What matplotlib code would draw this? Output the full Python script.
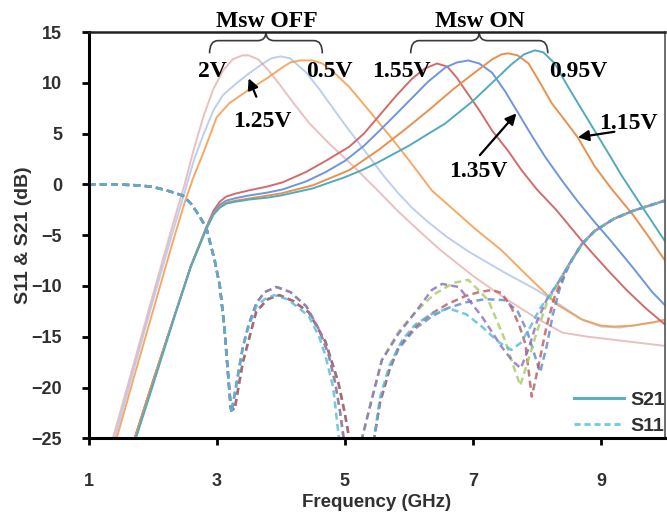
import matplotlib
matplotlib.use("Agg")
import matplotlib.pyplot as plt
from matplotlib.path import Path
from matplotlib.patches import PathPatch

plt.rcParams['font.family'] = ['Liberation Sans', 'DejaVu Sans']

# ---------------- S21, Msw OFF (light colours) ----------------
f_off_2v = [1.38, 1.7, 2.0, 2.3, 2.5, 2.65, 2.8, 2.95, 3.1, 3.25, 3.4, 3.5, 3.65, 3.8, 4.0, 4.2, 4.45, 4.76,
            5.1, 5.5, 5.84, 6.2, 6.5, 7.0, 7.5, 8.0, 8.4, 8.8, 9.2, 9.6, 10.0]
s21_off_2v = [-25, -17.8, -11.0, -4.3, 0.0, 3.6, 6.8, 9.4, 11.2, 12.3, 12.7, 12.7, 12.3, 11.3, 9.7, 8.0, 6.0, 4.0,
              2.0, -0.5, -2.7, -4.8, -6.5, -9.0, -11.2, -13.2, -14.6, -15.0, -15.3, -15.6, -15.9]

f_off_125 = [1.41, 1.7, 2.0, 2.3, 2.5, 2.65, 2.8, 2.95, 3.1, 3.3, 3.5, 3.7, 3.85, 4.0, 4.15, 4.4, 4.6, 4.76,
             5.0, 5.3, 5.6, 5.84, 6.05, 6.3, 6.6, 6.93, 7.5, 8.0, 8.3, 8.7, 9.0, 9.3, 9.6, 10.0]
s21_off_125 = [-25, -18.4, -11.6, -5.0, -0.8, 2.5, 5.0, 7.3, 8.8, 9.9, 10.9, 11.8, 12.4, 12.6, 12.4, 11.0, 9.4, 8.0,
               5.9, 3.4, 0.9, -0.9, -2.3, -3.7, -5.2, -6.6, -8.7, -10.4, -11.6, -13.3, -14.0, -14.1, -13.8, -13.4]

f_off_05 = [1.44, 1.7, 2.0, 2.3, 2.5, 2.65, 2.8, 3.0, 3.2, 3.5, 3.8, 4.0, 4.15, 4.3, 4.5, 4.65, 4.8, 5.07,
            5.4, 5.7, 6.0, 6.36, 6.7, 7.04, 7.45, 7.9, 8.33, 8.7, 9.0, 9.21, 9.5, 9.8, 10.0]
s21_off_05 = [-25, -19.2, -12.6, -6.0, -1.8, 0.9, 3.2, 6.6, 8.0, 9.3, 10.5, 11.4, 12.0, 12.2, 12.2, 11.9, 11.2, 9.6,
              7.1, 4.8, 2.4, -0.6, -2.5, -4.4, -6.5, -9.3, -11.9, -13.3, -13.9, -14.0, -13.9, -13.6, -13.3]

# ---------------- S21, Msw ON ----------------
f_on_155 = [1.72, 2.0, 2.37, 2.6, 2.84, 2.95, 3.05, 3.15, 3.3, 3.5, 3.8, 4.03, 4.39, 4.7, 5.07, 5.3, 5.53, 5.8,
            6.05, 6.25, 6.44, 6.6, 6.75, 6.88, 7.1, 7.3, 7.55, 7.76, 8.0, 8.3, 8.55, 8.8, 9.1, 9.4, 9.7, 10.0]
s21_on_155 = [-25, -19.5, -12.4, -8.0, -4.2, -2.6, -1.7, -1.2, -0.9, -0.6, -0.2, 0.2, 1.2, 2.3, 3.7, 5.0, 6.7, 8.7,
              10.4, 11.4, 11.9, 11.6, 10.5, 9.3, 7.3, 5.3, 3.3, 1.4, -0.5, -2.5, -4.4, -6.3, -8.4, -10.4, -12.2, -13.8]

f_on_135 = [1.72, 2.0, 2.37, 2.6, 2.84, 2.95, 3.05, 3.15, 3.3, 3.5, 3.8, 4.03, 4.4, 4.7, 5.0, 5.3, 5.53, 5.8,
            6.05, 6.3, 6.57, 6.75, 6.93, 7.1, 7.3, 7.5, 7.71, 7.9, 8.13, 8.4, 8.64, 8.9, 9.16, 9.5, 9.8, 10.0]
s21_on_135 = [-25, -19.5, -12.4, -8.0, -4.3, -2.8, -2.0, -1.6, -1.35, -1.1, -0.8, -0.5, 0.3, 1.2, 2.3, 3.8, 5.2, 6.9,
              8.5, 10.1, 11.5, 12.0, 12.2, 11.9, 11.0, 9.2, 7.0, 5.0, 2.7, 0.3, -1.7, -3.7, -5.6, -8.2, -10.6, -11.9]

f_on_115 = [1.72, 2.0, 2.37, 2.6, 2.84, 2.95, 3.05, 3.15, 3.3, 3.5, 3.8, 4.0, 4.5, 5.07, 5.53, 5.9, 6.31, 6.7,
            7.09, 7.3, 7.45, 7.55, 7.7, 7.87, 8.05, 8.23, 8.45, 8.64, 8.9, 9.16, 9.5, 9.75, 10.0]
s21_on_115 = [-25, -19.5, -12.4, -8.0, -4.3, -2.9, -2.2, -1.8, -1.6, -1.4, -1.1, -0.9, -0.1, 1.4, 3.4, 5.2, 7.3, 9.4,
              11.3, 12.3, 12.8, 12.9, 12.7, 11.9, 10.0, 8.0, 6.2, 4.6, 1.8, -0.4, -3.0, -5.2, -7.5]

f_on_095 = [1.74, 2.0, 2.37, 2.6, 2.84, 2.95, 3.05, 3.15, 3.3, 3.5, 3.8, 4.0, 4.5, 5.0, 5.27, 5.53, 6.0, 6.57,
            7.0, 7.35, 7.6, 7.8, 7.97, 8.1, 8.28, 8.45, 8.64, 8.9, 9.16, 9.32, 9.6, 9.8, 10.0]
s21_on_095 = [-25, -19.9, -12.5, -8.1, -4.4, -3.0, -2.3, -1.9, -1.7, -1.5, -1.3, -1.1, -0.4, 0.7, 1.4, 2.2, 3.8, 6.0,
              8.2, 10.3, 11.8, 12.8, 13.2, 13.0, 11.9, 10.0, 8.0, 5.3, 2.6, 0.9, -1.8, -3.7, -5.6]

# ---------------- S11 (dashed) ----------------
f_s11_cyan = [1.0, 1.4, 1.8, 2.0, 2.2, 2.35, 2.47, 2.6, 2.72, 2.84, 2.97, 3.05, 3.12, 3.17, 3.23, 3.3, 3.41, 3.5,
              3.62, 3.75, 3.9, 4.1, 4.25, 4.44, 4.6, 4.7, 4.82, 4.91,
              5.46, 5.55, 5.7, 5.9, 6.1, 6.35, 6.62, 6.9, 7.14, 7.4, 7.6, 7.75, 7.9, 8.05, 8.2, 8.35, 8.5, 8.7, 8.9,
              9.2, 9.5, 9.8, 10.0]
s11_cyan = [0, 0, -0.1, -0.25, -0.55, -0.85, -1.1, -1.9, -3.0, -4.3, -7.5, -10.0, -14.0, -18.0, -22.5, -20.0, -16.0, -14.0,
            -12.0, -11.3, -10.9, -11.3, -12.0, -13.0, -15.0, -16.9, -20.0, -25.0,
            -25.0, -21.0, -17.8, -15.3, -13.8, -12.8, -12.2, -12.8, -14.0, -15.5, -16.3, -15.6, -14.0, -12.2, -10.9, -9.5,
            -7.9, -5.9, -4.6, -3.4, -2.6, -2.0, -1.6]

f_s11_purple = [1.0, 1.4, 1.8, 2.0, 2.2, 2.35, 2.47, 2.6, 2.72, 2.84, 2.97, 3.05, 3.12, 3.17, 3.23, 3.3, 3.41, 3.5,
                3.62, 3.75, 3.93, 4.15, 4.4, 4.6, 4.75, 4.85, 4.93, 4.98,
                5.27, 5.38, 5.58, 5.84, 6.1, 6.36, 6.52, 6.78, 7.14, 7.45, 7.62, 7.75, 7.88, 8.0, 8.15, 8.35, 8.5, 8.7,
                8.9, 9.2, 9.5, 9.8, 10.0]
s11_purple = [0, 0, -0.1, -0.25, -0.55, -0.85, -1.1, -1.9, -3.0, -4.3, -7.5, -10.0, -14.0, -18.0, -22.5, -20.0, -16.0, -13.8,
              -11.7, -10.6, -10.1, -10.6, -12.0, -14.3, -16.8, -19.5, -22.5, -25.0,
              -25.0, -22.2, -17.3, -14.7, -12.6, -10.4, -9.8, -10.1, -13.0, -16.0, -17.4, -18.1, -16.0, -13.5, -11.4, -9.5,
              -7.9, -5.9, -4.6, -3.4, -2.6, -2.0, -1.6]

f_s11_green = [1.0, 1.4, 1.8, 2.0, 2.2, 2.35, 2.47, 2.6, 2.72, 2.84, 2.97, 3.05, 3.12, 3.17, 3.23, 3.3, 3.41, 3.5,
               3.62, 3.75, 3.95, 4.15, 4.4, 4.6, 4.75, 4.85, 4.93, 4.99,
               5.27, 5.38, 5.58, 5.84, 6.1, 6.4, 6.7, 6.93, 7.24, 7.5, 7.64, 7.74, 7.88, 8.0, 8.15, 8.35, 8.5, 8.7,
               8.9, 9.2, 9.5, 9.8, 10.0]
s11_green = [0, 0, -0.1, -0.25, -0.55, -0.85, -1.1, -1.9, -3.0, -4.3, -7.5, -10.0, -14.0, -18.0, -22.5, -20.0, -16.0, -13.8,
             -11.7, -10.6, -10.1, -10.6, -12.0, -14.3, -16.8, -19.5, -22.5, -25.0,
             -25.0, -22.2, -17.3, -14.5, -12.6, -10.8, -9.7, -9.4, -11.4, -15.3, -18.0, -19.8, -17.0, -14.5, -11.8, -9.5,
             -7.9, -5.9, -4.6, -3.4, -2.6, -2.0, -1.6]

f_s11_red = [1.0, 1.4, 1.8, 2.0, 2.2, 2.35, 2.47, 2.6, 2.72, 2.84, 2.97, 3.05, 3.12, 3.17, 3.22, 3.28, 3.34, 3.41,
             3.62, 3.8, 3.98, 4.2, 4.44, 4.7, 4.9, 5.0, 5.07,
             5.46, 5.55, 5.7, 5.84, 6.1, 6.36, 6.6, 6.88, 7.1, 7.3, 7.45, 7.6, 7.72, 7.82, 7.92, 8.02, 8.15, 8.27, 8.4,
             8.5, 8.7, 8.9, 9.2, 9.5, 9.8, 10.0]
s11_red = [0, 0, -0.1, -0.25, -0.55, -0.85, -1.1, -1.9, -3.0, -4.3, -7.5, -10.0, -14.0, -18.0, -22.0, -22.2, -20.0, -17.5,
           -12.5, -11.3, -10.9, -11.5, -12.6, -15.5, -19.5, -22.5, -25.0,
           -25.0, -21.5, -18.2, -16.0, -14.0, -12.7, -11.8, -11.0, -10.6, -10.4, -10.7, -12.1, -13.8, -15.7, -20.9, -18.0,
           -14.0, -11.2, -9.2, -7.9, -5.9, -4.6, -3.4, -2.6, -2.0, -1.6]

f_s11_blue = [1.0, 1.4, 1.8, 2.0, 2.2, 2.35, 2.47, 2.6, 2.72, 2.84, 2.97, 3.05, 3.12, 3.17, 3.22, 3.28, 3.34, 3.41,
              3.62, 3.8, 3.98, 4.2, 4.44, 4.7, 4.9, 5.0, 5.07,
              5.46, 5.55, 5.7, 5.84, 6.1, 6.36, 6.6, 6.9, 7.2, 7.5, 7.7, 7.85, 7.95, 8.05, 8.15, 8.25, 8.35, 8.45,
              8.55, 8.7, 8.9, 9.2, 9.5, 9.8, 10.0]
s11_blue = [0, 0, -0.1, -0.25, -0.55, -0.85, -1.1, -1.9, -3.0, -4.3, -7.5, -10.0, -14.0, -18.0, -22.0, -22.2, -20.0, -17.5,
            -12.5, -11.3, -10.9, -11.5, -12.6, -15.5, -19.5, -22.5, -25.0,
            -25.0, -21.5, -18.2, -16.2, -14.2, -13.0, -12.2, -11.6, -11.3, -11.4, -12.5, -14.5, -16.5, -18.5, -16.0,
            -12.8, -10.4, -8.7, -7.4, -5.9, -4.6, -3.4, -2.6, -2.0, -1.6]

x_ticks = [1, 3, 5, 7, 9]
y_ticks = [-25, -20, -15, -10, -5, 0, 5, 10, 15]

fig = plt.figure(figsize=(6.67, 5.17), dpi=100)
ax = fig.add_axes([0.1327, 0.1522, 0.8643, 0.7859])

s21_lw = 1.4
ax.plot(f_off_2v, s21_off_2v, color='#d98c8c', alpha=0.55, lw=s21_lw)
ax.plot(f_off_125, s21_off_125, color='#8aa6e0', alpha=0.55, lw=s21_lw)
ax.plot(f_off_05, s21_off_05, color='#f59a4c', alpha=0.85, lw=s21_lw)
ax.plot(f_on_155, s21_on_155, color='#d06c6c', lw=s21_lw)
ax.plot(f_on_135, s21_on_135, color='#6f95dc', lw=s21_lw)
ax.plot(f_on_115, s21_on_115, color='#e8914f', lw=s21_lw)
ax.plot(f_on_095, s21_on_095, color='#53aabb', lw=s21_lw)

dash = (2.8, 1.7)
s11_lw = 1.8
for fx, yy, col in [(f_s11_blue, s11_blue, '#5f86cc'), (f_s11_red, s11_red, '#b85a5a'),
                    (f_s11_green, s11_green, '#a3cb66'), (f_s11_purple, s11_purple, '#8a6cbf'),
                    (f_s11_cyan, s11_cyan, '#52b8d8')]:
    ax.plot(fx, yy, color=col, lw=s11_lw, dashes=dash, alpha=0.8)

# legend
h1, = ax.plot([], [], color='#5bb0bf', lw=2.2, label='S21')
h2, = ax.plot([], [], color='#6ccbe8', lw=2.0, dashes=(2.2, 1.4), label='S11')
leg = ax.legend(handles=[h1, h2], loc='lower right', bbox_to_anchor=(1.03, -0.035), frameon=False,
                handlelength=2.6, handletextpad=0.3, labelspacing=0.45,
                prop={'family': 'Liberation Sans', 'weight': 'bold', 'size': 14})
for t in leg.get_texts():
    t.set_color('#303030')

ax.set_xlim(1, 10)
ax.set_ylim(-25, 15)
ax.set_xticks(x_ticks)
ax.set_yticks(y_ticks)
ax.set_xticklabels([str(v) for v in x_ticks])
ax.set_yticklabels([str(v).replace('-', '\u2212') for v in y_ticks])
ax.tick_params(axis='both', direction='out', length=5, width=2, colors='black',
               labelsize=13, labelcolor='#303030')
ax.tick_params(axis='x', pad=20)
ax.tick_params(axis='y', pad=14)
for lab in ax.get_xticklabels() + ax.get_yticklabels():
    lab.set_fontweight('bold')

for s in ['left', 'bottom']:
    ax.spines[s].set_linewidth(2.2)
    ax.spines[s].set_color('black')
ax.spines['top'].set_linewidth(1.8)
ax.spines['top'].set_color('#222222')
ax.spines['right'].set_linewidth(1.2)
ax.spines['right'].set_color('#555555')

ax.set_xlabel('Frequency (GHz)', fontsize=13.5, fontweight='bold', color='#303030')
ax.set_ylabel('S11 & S21 (dB)', fontsize=14, fontweight='bold', color='#303030')
ax.xaxis.set_label_coords(0.5, -0.137)
ax.yaxis.set_label_coords(-0.098, 0.5)

# ---------------- annotations ----------------
serif = {'family': ['Liberation Serif', 'DejaVu Serif'], 'weight': 'bold', 'size': 17}


def brace(x0, x1, y_end, y_h, y_tip, r=0.13):
    xm = (x0 + x1) / 2.0
    verts = [(x0, y_end), (x0, y_h), (x0 + r, y_h),
             (xm - r, y_h),
             (xm, y_h), (xm, y_tip),
             (xm, y_h), (xm + r, y_h),
             (x1 - r, y_h),
             (x1, y_h), (x1, y_end)]
    codes = [Path.MOVETO, Path.CURVE3, Path.CURVE3,
             Path.LINETO,
             Path.CURVE3, Path.CURVE3,
             Path.CURVE3, Path.CURVE3,
             Path.LINETO,
             Path.CURVE3, Path.CURVE3]
    p = PathPatch(Path(verts, codes), fill=False, lw=1.2, edgecolor='#3a3a3a', clip_on=False)
    ax.add_patch(p)


brace(2.89, 4.65, 12.9, 14.15, 15.0)
brace(6.03, 8.17, 12.9, 14.15, 15.0)

ax.text(3.78, 15.5, 'Msw OFF', ha='center', va='baseline', clip_on=False, **serif)
ax.text(7.11, 15.5, 'Msw ON', ha='center', va='baseline', clip_on=False, **serif)
ax.text(2.94, 10.6, '2V', ha='center', va='baseline', **serif)
ax.text(4.76, 10.6, '0.5V', ha='center', va='baseline', **serif)
ax.text(3.72, 5.67, '1.25V', ha='center', va='baseline', **serif)
ax.text(5.88, 10.6, '1.55V', ha='center', va='baseline', **serif)
ax.text(8.65, 10.6, '0.95V', ha='center', va='baseline', **serif)
ax.text(7.09, 0.74, '1.35V', ha='center', va='baseline', **serif)
ax.text(9.43, 5.5, '1.15V', ha='center', va='baseline', clip_on=False, **serif)

arw = dict(arrowstyle='-|>', lw=1.6, color='black', mutation_scale=16, shrinkA=0, shrinkB=0)
ax.annotate('', xy=(3.5, 10.44), xytext=(3.62, 8.63), arrowprops=arw)
ax.annotate('', xy=(7.68, 6.99), xytext=(7.11, 2.88), arrowprops=arw)
ax.annotate('', xy=(8.64, 4.63), xytext=(9.21, 5.18), arrowprops=arw)

fig.savefig('out.png', dpi=100)
